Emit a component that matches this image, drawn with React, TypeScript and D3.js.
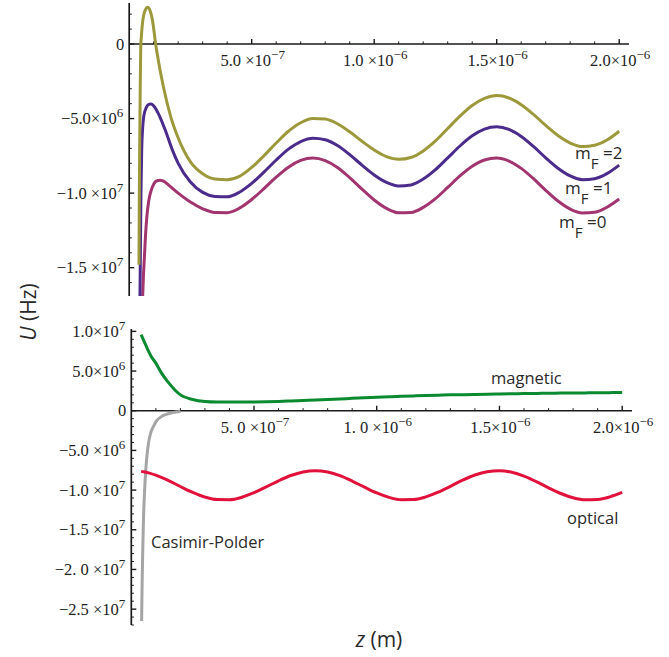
import React from 'react';
import * as d3 from 'd3';

// z in micrometres, U in units of 10^6 Hz
const zFar = [0.45, 0.5, 0.55, 0.6, 0.65, 0.7, 0.75, 0.8, 0.85, 0.9, 0.95, 1.0, 1.05, 1.1, 1.15, 1.2,
  1.25, 1.3, 1.35, 1.4, 1.45, 1.5, 1.55, 1.6, 1.65, 1.7, 1.75, 1.8, 1.85, 1.9, 1.95, 2.0];

// bottom panel
const zNearField = [0.04, 0.05, 0.06, 0.07, 0.08, 0.1, 0.12, 0.15, 0.2, 0.25, 0.3, 0.35, 0.4];
const uNearOptical = [-7.64, -7.69, -7.75, -7.83, -7.92, -8.12, -8.37, -8.78, -9.55, -10.29, -10.88, -11.2, -11.21];
const uFarOptical = [-10.91, -10.33, -9.6, -8.83, -8.16, -7.71, -7.55, -7.72, -8.18, -8.86, -9.63, -10.36,
  -10.92, -11.22, -11.2, -10.86, -10.27, -9.52, -8.75, -8.1, -7.68, -7.55, -7.75, -8.24, -8.93, -9.71,
  -10.43, -10.97, -11.23, -11.18, -10.85, -10.3];
const uNearMagnetic = [9.6, 8.9, 8.2, 7.5, 6.9, 6.0, 4.9, 3.6, 2.0, 1.42, 1.17, 1.1, 1.09];
const uFarMagnetic = [1.09, 1.1, 1.13, 1.17, 1.23, 1.29, 1.35, 1.42, 1.49, 1.56, 1.63, 1.7, 1.76, 1.82,
  1.87, 1.92, 1.96, 2.0, 2.03, 2.06, 2.09, 2.12, 2.14, 2.16, 2.18, 2.2, 2.22, 2.24, 2.25, 2.27, 2.28, 2.3];
const zCasimir = [0.042, 0.044, 0.047, 0.05, 0.055, 0.06, 0.065, 0.07, 0.08, 0.09, 0.1, 0.12, 0.14, 0.17, 0.2];
const uCasimir = [-26.5, -22.0, -17.0, -13.3, -9.6, -7.0, -5.3, -4.1, -2.7, -2.0, -1.4, -0.8, -0.48, -0.22, -0.1];

// top panel, total potential per m_F
const zNearF2 = [0.04, 0.041, 0.043, 0.045, 0.047, 0.05, 0.055, 0.06, 0.068, 0.075, 0.085, 0.095, 0.108,
  0.12, 0.14, 0.17, 0.2, 0.25, 0.3, 0.35, 0.4];
const uNearF2 = [-14.8, -11.0, -6.5, -3.0, -0.3, 0.6, 1.5, 2.0, 2.35, 2.46, 2.25, 1.6, 0.0,
  -1.2, -2.9, -4.9, -6.3, -7.9, -8.7, -9.05, -9.1];
const uFarF2 = [-8.88, -8.28, -7.49, -6.64, -5.85, -5.28, -5.0, -5.03, -5.35, -5.89, -6.52, -7.11, -7.55,
  -7.73, -7.61, -7.17, -6.5, -5.67, -4.84, -4.13, -3.65, -3.46, -3.62, -4.07, -4.72, -5.46, -6.14, -6.64,
  -6.88, -6.79, -6.44, -5.85];
const zNearF1 = [0.044, 0.046, 0.048, 0.051, 0.055, 0.06, 0.07, 0.08, 0.088, 0.1, 0.12, 0.15, 0.176, 0.2,
  0.25, 0.3, 0.35, 0.4];
const uNearF1 = [-16.9, -13.5, -10.0, -7.1, -5.6, -4.8, -4.25, -4.05, -4.03, -4.15, -4.7, -5.9, -7.1, -8.0,
  -9.25, -9.95, -10.22, -10.25];
const uFarF1 = [-9.94, -9.35, -8.59, -7.78, -7.05, -6.54, -6.32, -6.42, -6.81, -7.42, -8.12, -8.78, -9.28,
  -9.52, -9.45, -9.06, -8.43, -7.64, -6.84, -6.16, -5.71, -5.55, -5.73, -6.2, -6.87, -7.63, -8.33, -8.85,
  -9.1, -9.03, -8.69, -8.12];
const zNearF0 = [0.055, 0.058, 0.062, 0.066, 0.072, 0.08, 0.09, 0.1, 0.11, 0.126, 0.14, 0.16, 0.2, 0.25,
  0.3, 0.35, 0.4];
const uNearF0 = [-16.9, -15.6, -14.3, -13.0, -11.6, -10.5, -9.8, -9.4, -9.2, -9.13, -9.2, -9.45, -10.0,
  -10.6, -11.05, -11.3, -11.31];
const uFarF0 = [-11.01, -10.43, -9.7, -8.93, -8.26, -7.81, -7.65, -7.82, -8.28, -8.96, -9.73, -10.46,
  -11.02, -11.32, -11.3, -10.96, -10.37, -9.62, -8.85, -8.2, -7.78, -7.65, -7.85, -8.34, -9.03, -9.81,
  -10.53, -11.07, -11.33, -11.28, -10.95, -10.4];

// ticks
const xMajor = [0.5, 1.0, 1.5, 2.0];
const xLabelsTop = ['5.0 ×10', '1.0 ×10', '1.5×10', '2.0×10'];
const xLabelsBottom = ['5. 0 ×10', '1. 0 ×10', '1.5×10', '2.0×10'];
const xExps = ['−7', '−6', '−6', '−6'];
const yMajorTop = [0, -5, -10, -15];
const yLabelsTop = ['0', '−5.0×10', '−1.0 ×10', '−1.5 ×10'];
const yExpsTop = ['', '6', '7', '7'];
const yMajorBottom = [10, 5, 0, -5, -10, -15, -20, -25];
const yLabelsBottom = ['1.0×10', '5.0×10', '0', '−5.0 ×10', '−1.0 ×10', '−1.5 ×10', '−2. 0 ×10', '−2.5 ×10'];
const yExpsBottom = ['7', '6', '', '6', '7', '7', '7', '7'];

const colors = {
  f2: '#9d983b',
  f1: '#4b2b8c',
  f0: '#a2346f',
  magnetic: '#0b8a30',
  optical: '#e0123b',
  casimir: '#a5a5a5',
};

const join = (zn: number[], un: number[], uf: number[] | null) => {
  const pts = zn.map((z, i) => [z, un[i]]);
  return uf ? pts.concat(zFar.map((z, i) => [z, uf[i]])) : pts;
};

const serif = '"Liberation Serif", "DejaVu Serif", serif';
const sans = '"Open Sans", "DejaVu Sans", sans-serif';

function Axes({ x, y, yMajor, yLabels, yExps, xLabels, yTop, yBottom }: any) {
  const x0 = x(0);
  const y0 = y(0);
  const minorX = d3.range(1, 21).map(i => i / 10).filter(v => !xMajor.some(m => Math.abs(m - v) < 1e-6));
  const [yMin, yMax] = y.domain().slice().sort((a: number, b: number) => a - b);
  const minorY = d3.range(Math.ceil(yMin), Math.floor(yMax) + 1).filter(v => v % 5 !== 0);
  return (
    <g stroke="#1a1a1a" fill="none">
      <line x1={x0} x2={x0} y1={yTop} y2={yBottom} strokeWidth={1.7} />
      <line x1={x0} x2={x.range()[1]} y1={y0} y2={y0} strokeWidth={1.7} />
      {xMajor.map(v => <line key={'xM' + v} x1={x(v)} x2={x(v)} y1={y0} y2={y0 - 5} strokeWidth={1.4} />)}
      {minorX.map(v => <line key={'xm' + v} x1={x(v)} x2={x(v)} y1={y0} y2={y0 - 2.6} strokeWidth={1} />)}
      {yMajor.map((v: number) => <line key={'yM' + v} x1={x0} x2={x0 + 5} y1={y(v)} y2={y(v)} strokeWidth={1.4} />)}
      {minorY.map(v => <line key={'ym' + v} x1={x0} x2={x0 + 2.6} y1={y(v)} y2={y(v)} strokeWidth={1} />)}
      <g stroke="none" fill="#222" fontFamily={serif} fontSize={16.5}>
        {xMajor.map((v, i) => (
          <text key={'xl' + v} x={x(v) + 1} y={y0 + 22} textAnchor="middle">
            {xLabels[i]}<tspan dy={-7} fontSize={13}>{xExps[i]}</tspan>
          </text>
        ))}
        {yMajor.map((v: number, i: number) => (
          <text key={'yl' + v} x={x0 - (yExps[i] ? 6 : 5)} y={y(v) + 5.5} textAnchor="end">
            {yLabels[i]}{yExps[i] ? <tspan dy={-7} fontSize={13}>{yExps[i]}</tspan> : null}
          </text>
        ))}
      </g>
    </g>
  );
}

export default function App() {
  const xTop = d3.scaleLinear().domain([0, 2.04]).range([129.2, 629]);
  const yTop = d3.scaleLinear().domain([2.75, -16.9]).range([3, 296]);
  const xBot = d3.scaleLinear().domain([0, 2.04]).range([131.3, 632]);
  const yBot = d3.scaleLinear().domain([10.3, -27.0]).range([329, 625]);

  const lineTop = d3.line<number[]>().x(d => xTop(d[0])).y(d => yTop(d[1])).curve(d3.curveMonotoneX);
  const lineBot = d3.line<number[]>().x(d => xBot(d[0])).y(d => yBot(d[1])).curve(d3.curveMonotoneX);

  const topSeries = [
    { key: 'f0', pts: join(zNearF0, uNearF0, uFarF0) },
    { key: 'f1', pts: join(zNearF1, uNearF1, uFarF1) },
    { key: 'f2', pts: join(zNearF2, uNearF2, uFarF2) },
  ];
  const botSeries = [
    { key: 'casimir', pts: join(zCasimir, uCasimir, null) },
    { key: 'magnetic', pts: join(zNearField, uNearMagnetic, uFarMagnetic) },
    { key: 'optical', pts: join(zNearField, uNearOptical, uFarOptical) },
  ];

  return (
    <svg width={669} height={657} style={{ position: 'absolute', left: 0, top: 0, background: '#fff' }}>
      <defs>
        <clipPath id="clipTop"><rect x={129} y={0} width={520} height={296} /></clipPath>
        <clipPath id="clipBot"><rect x={131} y={326} width={520} height={299} /></clipPath>
      </defs>

      <Axes x={xTop} y={yTop} yMajor={yMajorTop} yLabels={yLabelsTop} yExps={yExpsTop}
        xLabels={xLabelsTop} yTop={3} yBottom={296} />
      <Axes x={xBot} y={yBot} yMajor={yMajorBottom} yLabels={yLabelsBottom} yExps={yExpsBottom}
        xLabels={xLabelsBottom} yTop={329} yBottom={625} />

      <g clipPath="url(#clipTop)" fill="none" strokeWidth={3} strokeLinejoin="round">
        {topSeries.map(s => <path key={s.key} d={lineTop(s.pts as any) || ''} stroke={(colors as any)[s.key]} />)}
      </g>
      <g clipPath="url(#clipBot)" fill="none" strokeWidth={3} strokeLinejoin="round">
        {botSeries.map(s => <path key={s.key} d={lineBot(s.pts as any) || ''} stroke={(colors as any)[s.key]} />)}
      </g>

      <g fontFamily={sans} fill="#2a2a2a">
        <text x={575} y={159} fontSize={17}>m<tspan dy={10} fontSize={15}>F</tspan><tspan dy={-10}> =2</tspan></text>
        <text x={565} y={194} fontSize={17}>m<tspan dy={10} fontSize={15}>F</tspan><tspan dy={-10}> =1</tspan></text>
        <text x={559} y={228} fontSize={17}>m<tspan dy={10} fontSize={15}>F</tspan><tspan dy={-10}> =0</tspan></text>
        <text x={491} y={384} fontSize={16.5}>magnetic</text>
        <text x={567} y={524} fontSize={16.5}>optical</text>
        <text x={151} y={548} fontSize={16.5}>Casimir-Polder</text>
        <text transform="translate(36,312) rotate(-90)" textAnchor="middle" fontSize={21}>
          <tspan fontStyle="italic">U</tspan> (Hz)
        </text>
        <text x={379} y={647} textAnchor="middle" fontSize={21}>
          <tspan fontStyle="italic">z</tspan> (m)
        </text>
      </g>
    </svg>
  );
}
